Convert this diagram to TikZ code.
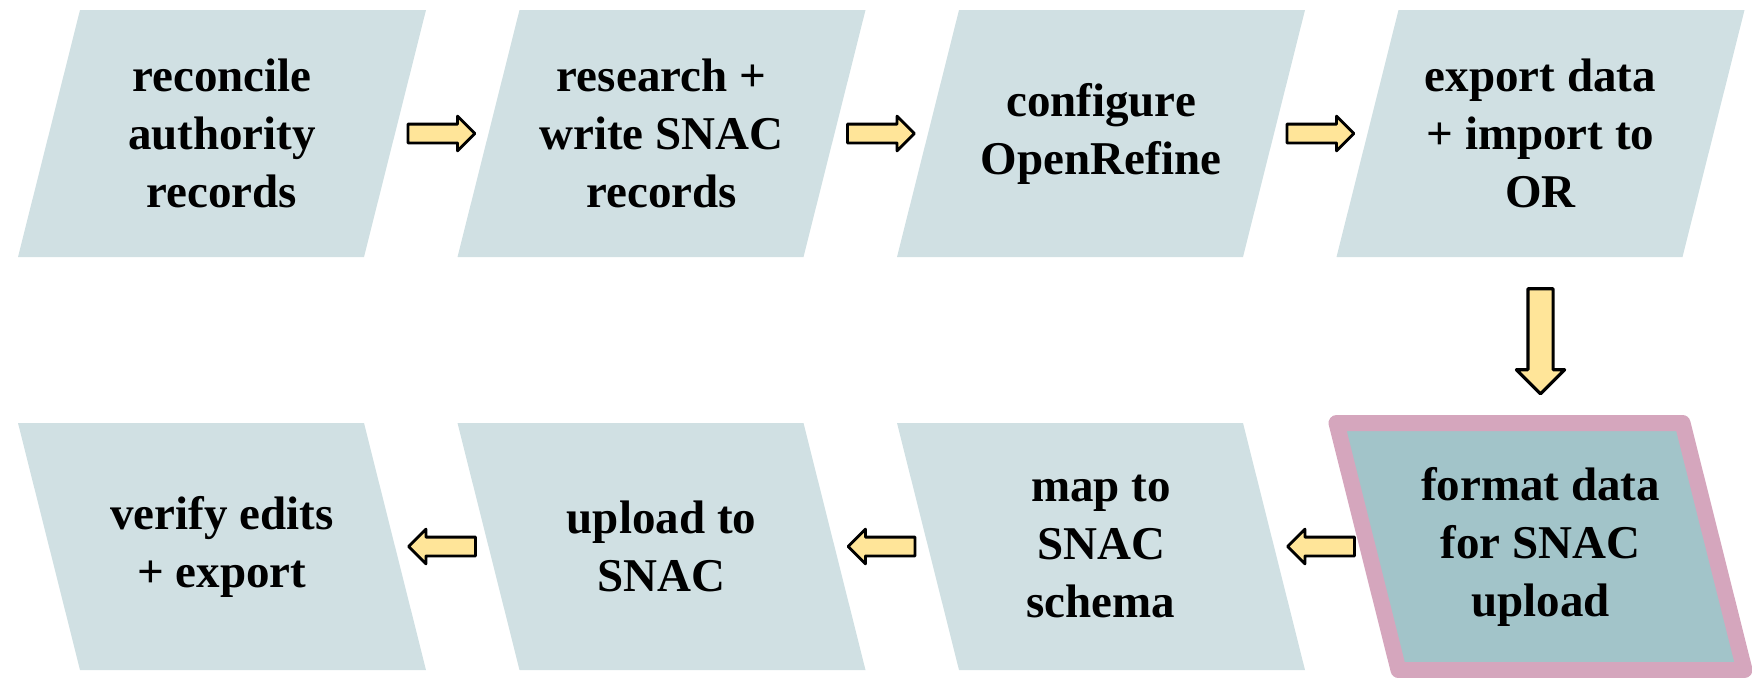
\documentclass[tikz,border=0pt]{standalone}
\usepackage{fontspec}
\setmainfont{Liberation Serif}
\usetikzlibrary{shapes.arrows}
\definecolor{boxcyan}{HTML}{D0E0E3}
\definecolor{boxteal}{HTML}{A2C4C9}
\definecolor{boxpink}{HTML}{D5A6BD}
\definecolor{arrowyellow}{HTML}{FFE599}

\begin{document}
\begin{tikzpicture}[x=0.5pt, y=-0.5pt,
    stepbox/.style={fill=boxcyan},
    hilite/.style={fill=boxteal, draw=boxpink, line width=8pt, line join=round},
    steptext/.style={minimum width=204pt, minimum height=123.5pt, inner sep=0pt, align=center, font=\fontsize{23.5}{29}\selectfont\bfseries},
    fatarrow/.style={single arrow, draw=black, fill=arrowyellow, line width=1.4pt, line join=round, inner sep=4pt, sloped, allow upside down, xshift=-2.5pt, minimum height=33.5pt, minimum width=16pt, single arrow head extend=4pt},
    bigarrow/.style={fatarrow, line width=1.6pt, inner sep=5.5pt, minimum height=52.5pt, minimum width=22.5pt, single arrow head extend=5.75pt}]
	\useasboundingbox (0,0) rectangle (1752,677);
	\foreach \cx/\cy/\s/\st/\n/\txt in {
	    222/133.5/1/stepbox/reconcile/{reconcile\\authority\\records},
	    661.5/133.5/1/stepbox/research/{research +\\write SNAC\\records},
	    1101/133.5/1/stepbox/configure/{configure\\OpenRefine},
	    1540.5/133.5/1/stepbox/export/{export data\\+ import to\\OR},
	    1540.5/546.5/-1/hilite/format/{format data\\for SNAC\\upload},
	    1101/546.5/-1/stepbox/mapping/{map to\\SNAC\\schema},
	    661.5/546.5/-1/stepbox/upload/{upload to\\SNAC},
	    222/546.5/-1/stepbox/verify/{verify edits\\+ export}}{
		\path[\st] (\cx-173+31*\s, \cy-123.5) -- (\cx+173+31*\s, \cy-123.5) -- (\cx+173-31*\s, \cy+123.5) -- (\cx-173-31*\s, \cy+123.5) -- cycle;
		\node[steptext] (\n) at (\cx,\cy) {\txt};
	}
	\path (reconcile) -- node[fatarrow]{} (research);
	\path (research) -- node[fatarrow]{} (configure);
	\path (configure) -- node[fatarrow]{} (export);
	\path (export) -- node[bigarrow]{} (format);
	\path (format) -- node[fatarrow]{} (mapping);
	\path (mapping) -- node[fatarrow]{} (upload);
	\path (upload) -- node[fatarrow]{} (verify);
\end{tikzpicture}
\end{document}
